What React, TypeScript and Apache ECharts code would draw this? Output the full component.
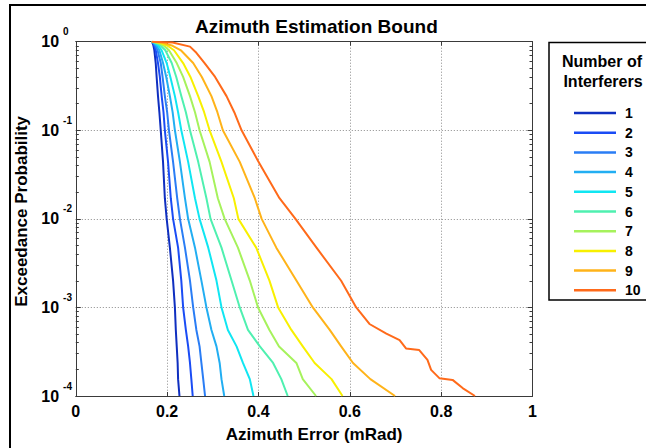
import React, { useEffect, useRef } from "react";
import * as echarts from "echarts";

const TITLE = "Azimuth Estimation Bound";
const X_NAME = "Azimuth Error (mRad)";
const Y_NAME = "Exceedance Probability";
const LEGEND_TITLE = ["Number of", "Interferers"];
const SERIES_NAMES = ["1", "2", "3", "4", "5", "6", "7", "8", "9", "10"];
const COLORS = [
  "#0f2fc0", "#1a4cf5", "#2a7df5", "#22aef2", "#10e6f2",
  "#4ff0b0", "#a6f25c", "#f8f000", "#ffb319", "#ff6a1a",
];

// shared probability levels for curves 1..9
const LEVELS = [1, 0.97, 0.9, 0.8, 0.574, 0.4, 0.243, 0.16, 0.1, 0.044, 0.0171, 0.01, 0.00473, 0.00201, 0.001, 0.000557, 0.000363, 0.000236, 0.000155, 0.0001];
const N1 = [0.166, 0.168, 0.170, 0.172, 0.175, 0.177, 0.180, 0.183, 0.186, 0.191, 0.195, 0.199, 0.206, 0.213, 0.217, 0.219, 0.221, 0.223, 0.224, 0.227];
const N2 = [0.166, 0.169, 0.172, 0.175, 0.180, 0.184, 0.188, 0.192, 0.195, 0.202, 0.208, 0.213, 0.224, 0.231, 0.235, 0.241, 0.246, 0.250, 0.253, 0.256];
const N3 = [0.166, 0.170, 0.174, 0.179, 0.186, 0.190, 0.195, 0.200, 0.204, 0.213, 0.222, 0.228, 0.239, 0.250, 0.257, 0.264, 0.271, 0.275, 0.279, 0.283];
const N4 = [0.166, 0.171, 0.177, 0.183, 0.191, 0.198, 0.206, 0.212, 0.217, 0.228, 0.239, 0.246, 0.261, 0.275, 0.286, 0.297, 0.308, 0.315, 0.319, 0.325];
const N5 = [0.166, 0.173, 0.181, 0.188, 0.199, 0.207, 0.217, 0.224, 0.231, 0.246, 0.261, 0.271, 0.290, 0.308, 0.319, 0.333, 0.352, 0.366, 0.381, 0.389];
const N6 = [0.166, 0.176, 0.186, 0.196, 0.210, 0.220, 0.231, 0.241, 0.250, 0.268, 0.286, 0.295, 0.319, 0.341, 0.359, 0.377, 0.403, 0.432, 0.450, 0.464];
const N7 = [0.166, 0.180, 0.193, 0.204, 0.221, 0.235, 0.250, 0.261, 0.271, 0.293, 0.311, 0.326, 0.355, 0.381, 0.399, 0.424, 0.445, 0.483, 0.497, 0.526];
const N8 = [0.167, 0.185, 0.201, 0.215, 0.235, 0.251, 0.268, 0.281, 0.293, 0.319, 0.346, 0.356, 0.395, 0.424, 0.443, 0.472, 0.497, 0.523, 0.560, 0.584];
const N9 = [0.168, 0.190, 0.212, 0.230, 0.257, 0.276, 0.297, 0.310, 0.322, 0.359, 0.392, 0.407, 0.439, 0.483, 0.519, 0.556, 0.581, 0.607, 0.645, 0.699];

// curve 10 has its own, finer sampling (stair-steps in the tail)
const N10_P = [1, 0.98, 0.88, 0.75, 0.574, 0.4, 0.243, 0.16, 0.1, 0.044, 0.0171, 0.01, 0.00473, 0.002, 0.001, 0.00065, 0.000506, 0.000427, 0.000344, 0.00033, 0.000256, 0.000197, 0.000159, 0.000152, 0.000123, 0.0001];
const N10_X = [0.166, 0.212, 0.250, 0.264, 0.282, 0.305, 0.330, 0.347, 0.363, 0.400, 0.446, 0.481, 0.527, 0.581, 0.614, 0.643, 0.680, 0.709, 0.723, 0.752, 0.770, 0.778, 0.796, 0.825, 0.847, 0.874];

const X_TICK_LABELS: Record<string, string> = { "0": "0", "0.2": "0.2", "0.4": "0.4", "0.6": "0.6", "0.8": "0.8", "1": "1" };

const FONT = "'Liberation Sans', Arial, Helvetica, sans-serif";
const AXIS_COLOR = "#3a3a3a";

export default function App() {
  const ref = useRef<HTMLDivElement>(null);
  useEffect(() => {
    if (!ref.current) return;
    const chart = echarts.init(ref.current, null, { renderer: "svg" });
    const curves = [N1, N2, N3, N4, N5, N6, N7, N8, N9];
    const seriesData: number[][][] = curves.map((xs) => xs.map((x, i) => [x, LEVELS[i]]));
    seriesData.push(N10_X.map((x, i) => [x, N10_P[i]]));

    const series = SERIES_NAMES.map((name, i) => ({
      name,
      type: "line",
      xAxisIndex: 0,
      yAxisIndex: 0,
      data: seriesData[i],
      showSymbol: false,
      symbol: "none",
      lineStyle: { width: 2, color: COLORS[i], join: "round" },
      itemStyle: { color: COLORS[i] },
      z: 3,
    }));

    const gridLine = { show: true, lineStyle: { color: "#8a8a8a", type: [1, 2], width: 1 } };

    chart.setOption({
      animation: false,
      backgroundColor: "#fff",
      textStyle: { fontFamily: FONT },
      title: {
        text: TITLE,
        left: 190,
        top: 12,
        textStyle: { fontFamily: FONT, fontSize: 19, fontWeight: "bold", color: "#000" },
      },
      grid: { left: 75.8, top: 41.7, right: 113.5, bottom: 48, containLabel: false },
      legend: {
        orient: "vertical",
        left: 569,
        top: 101,
        icon: "rect",
        itemWidth: 42,
        itemHeight: 2.5,
        itemGap: 5.7,
        selectedMode: false,
        data: SERIES_NAMES,
        textStyle: { fontFamily: FONT, fontSize: 14, fontWeight: "bold", color: "#000", lineHeight: 14, padding: [0, 0, 0, 4] },
      },
      xAxis: [
        {
          type: "value",
          min: 0,
          max: 1,
          interval: 0.2,
          position: "bottom",
          name: X_NAME,
          nameLocation: "middle",
          nameGap: 30,
          nameTextStyle: { fontFamily: FONT, fontSize: 17, fontWeight: "bold", color: "#000", padding: [0, 0, 0, 20] },
          axisLine: { show: true, onZero: false, lineStyle: { color: AXIS_COLOR, width: 1 } },
          axisTick: { show: true, inside: true, length: 4, lineStyle: { color: AXIS_COLOR } },
          axisLabel: {
            margin: 7,
            fontFamily: FONT,
            fontSize: 16,
            fontWeight: "bold",
            color: "#000",
            formatter: (v: number) => X_TICK_LABELS[String(Math.round(v * 10) / 10)] ?? String(v),
          },
          splitLine: gridLine,
        },
        {
          type: "value",
          min: 0,
          max: 1,
          interval: 0.2,
          position: "top",
          axisLine: { show: true, onZero: false, lineStyle: { color: AXIS_COLOR, width: 1 } },
          axisTick: { show: true, inside: true, length: 4, lineStyle: { color: AXIS_COLOR } },
          axisLabel: { show: false },
          splitLine: { show: false },
        },
      ],
      yAxis: [
        {
          type: "log",
          logBase: 10,
          min: 0.0001,
          max: 1,
          position: "left",
          name: Y_NAME,
          nameLocation: "middle",
          nameGap: 40,
          nameTextStyle: { fontFamily: FONT, fontSize: 17, fontWeight: "bold", color: "#000", padding: [0, 0, 0, 15] },
          axisLine: { show: true, onZero: false, lineStyle: { color: AXIS_COLOR, width: 1 } },
          axisTick: { show: true, inside: true, length: 5, lineStyle: { color: AXIS_COLOR } },
          minorTick: { show: true, splitNumber: 9, length: 3, lineStyle: { color: AXIS_COLOR } },
          axisLabel: {
            align: "left",
            margin: 34.5,
            formatter: (v: number) => `{b|10}{s|${Math.round(Math.log10(v))}}`,
            rich: {
              b: { fontFamily: FONT, fontSize: 16, fontWeight: "bold", color: "#000" },
              s: { fontFamily: FONT, fontSize: 10, fontWeight: "bold", color: "#000", padding: [0, 0, 20, 4] },
            },
          },
          splitLine: gridLine,
        },
        {
          type: "log",
          logBase: 10,
          min: 0.0001,
          max: 1,
          position: "right",
          axisLine: { show: true, onZero: false, lineStyle: { color: AXIS_COLOR, width: 1 } },
          axisTick: { show: true, inside: true, length: 5, lineStyle: { color: AXIS_COLOR } },
          minorTick: { show: true, splitNumber: 9, length: 3, lineStyle: { color: AXIS_COLOR } },
          axisLabel: { show: false },
          splitLine: { show: false },
        },
      ],
      graphic: [
        {
          type: "rect",
          z: -10,
          silent: true,
          shape: { x: 10, y: 5, width: 700, height: 500 },
          style: { fill: "none", stroke: "#000", lineWidth: 2 },
        },
        {
          type: "rect",
          z: -5,
          silent: true,
          shape: { x: 549, y: 42.5, width: 200, height: 257.5 },
          style: { fill: "#fff", stroke: "#000", lineWidth: 1.5 },
        },
        {
          type: "text",
          silent: true,
          x: 602,
          y: 61.5,
          style: { text: LEGEND_TITLE[0], fill: "#000", font: `bold 16px ${FONT}`, textAlign: "center", textVerticalAlign: "middle" },
        },
        {
          type: "text",
          silent: true,
          x: 603,
          y: 81.5,
          style: { text: LEGEND_TITLE[1], fill: "#000", font: `bold 16px ${FONT}`, textAlign: "center", textVerticalAlign: "middle" },
        },
      ],
      series,
    });
    return () => chart.dispose();
  }, []);
  return <div ref={ref} style={{ width: 646, height: 448, position: "absolute", left: 0, top: 0 }} />;
}
